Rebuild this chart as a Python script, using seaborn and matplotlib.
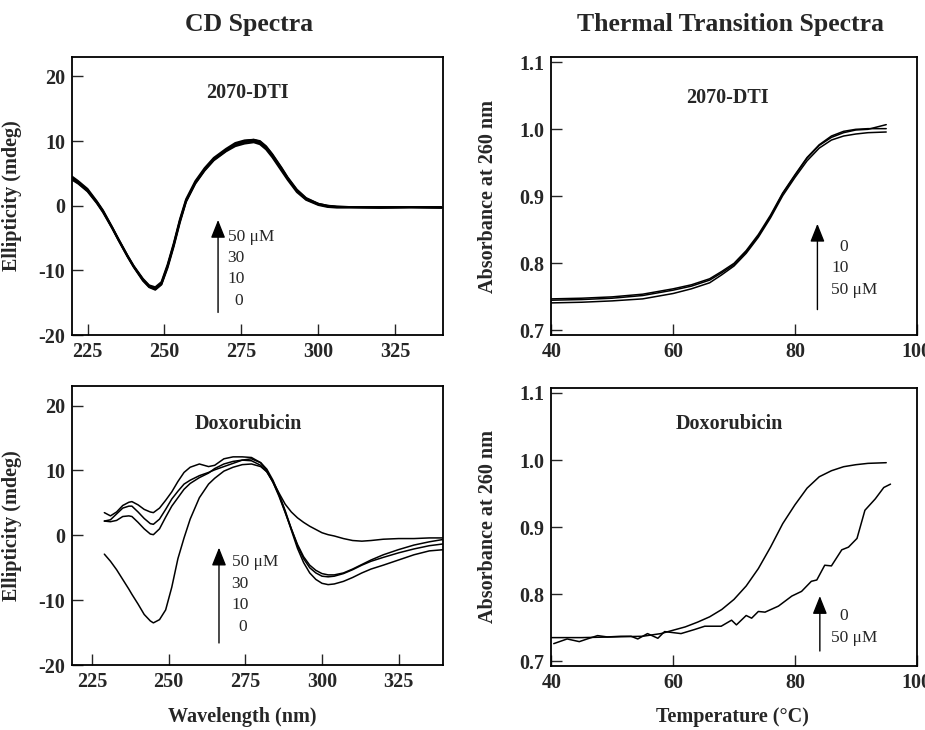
import numpy as np
import pandas as pd
import matplotlib
matplotlib.use("Agg")
import matplotlib.pyplot as plt
from matplotlib.ticker import FormatStrFormatter
import seaborn as sns

# ---- CD spectra, 2070-DTI (wavelength nm, ellipticity mdeg) ----
cd_dti_nm = [220, 222, 225, 228, 230, 233, 235, 238, 240, 243, 245, 247, 249, 251,
             253, 255, 257, 260, 263, 266, 270, 273, 276, 279, 281, 283, 285, 288,
             290, 293, 296, 300, 303, 306, 310, 320, 330, 340]
cd_dti_0 = [4.3, 3.6, 2.4, 0.6, -0.8, -3.4, -5.2, -7.8, -9.4, -11.4, -12.4, -12.8, -12.0, -9.3,
            -6.0, -2.3, 0.8, 3.6, 5.6, 7.2, 8.6, 9.4, 9.8, 10.0, 9.7, 8.9, 7.7, 5.6,
            4.2, 2.3, 1.0, 0.2, -0.1, -0.2, -0.2, -0.3, -0.2, -0.3]
cd_dti_10 = [4.0, 3.4, 2.2, 0.4, -1.0, -3.5, -5.3, -7.9, -9.5, -11.6, -12.6, -13.0, -12.2, -9.6,
             -6.3, -2.6, 0.6, 3.4, 5.4, 7.0, 8.4, 9.2, 9.6, 9.8, 9.5, 8.7, 7.5, 5.4,
             4.0, 2.1, 0.9, 0.1, -0.2, -0.3, -0.3, -0.3, -0.3, -0.3]
cd_dti_30 = [4.5, 3.8, 2.6, 0.7, -0.7, -3.3, -5.1, -7.7, -9.3, -11.3, -12.3, -12.6, -11.8, -9.1,
             -5.8, -2.1, 1.0, 3.8, 5.8, 7.4, 8.8, 9.7, 10.1, 10.2, 9.9, 9.1, 7.9, 5.8,
             4.3, 2.4, 1.1, 0.3, 0.0, -0.1, -0.2, -0.2, -0.2, -0.2]
cd_dti_50 = [4.2, 3.5, 2.3, 0.5, -0.9, -3.4, -5.2, -7.8, -9.4, -11.5, -12.5, -12.9, -12.1, -9.4,
             -6.1, -2.4, 0.7, 3.5, 5.5, 7.1, 8.5, 9.5, 10.0, 10.2, 10.0, 9.2, 8.0, 5.9,
             4.4, 2.5, 1.2, 0.3, 0.0, -0.2, -0.2, -0.3, -0.2, -0.3]

# ---- CD spectra, Doxorubicin ----
cd_dox_nm = [229, 231, 233, 235, 237, 238, 240, 242, 244, 245, 247, 249, 251, 253, 255,
             257, 260, 263, 265, 268, 271, 274, 277, 280, 282, 284, 286, 288, 290, 292,
             294, 296, 298, 300, 302, 304, 307, 310, 313, 316, 320, 325, 330, 335, 340]
cd_dox_0 = [-2.9, -4.0, -5.3, -6.8, -8.3, -9.1, -10.6, -12.2, -13.2, -13.5, -13.0, -11.5, -8.0, -3.6, -0.4,
            2.5, 5.8, 7.9, 8.8, 9.9, 10.5, 10.9, 11.0, 10.6, 9.8, 8.3, 6.5, 4.8, 3.6, 2.7,
            2.0, 1.4, 0.9, 0.4, 0.1, -0.1, -0.5, -0.8, -0.9, -0.8, -0.6, -0.5, -0.5, -0.4, -0.4]
cd_dox_10 = [2.2, 2.1, 2.3, 2.9, 3.0, 2.9, 2.0, 1.0, 0.2, 0.1, 1.0, 2.8, 4.5, 5.8, 7.1,
             8.0, 8.9, 9.6, 10.3, 11.0, 11.4, 11.6, 11.5, 10.8, 9.8, 8.2, 6.2, 3.6, 0.8, -2.0,
             -4.2, -5.8, -6.8, -7.4, -7.6, -7.5, -7.1, -6.5, -5.8, -5.2, -4.6, -3.8, -3.0, -2.4, -2.2]
cd_dox_30 = [2.2, 2.4, 3.3, 4.2, 4.5, 4.5, 3.6, 2.6, 1.8, 1.7, 2.5, 4.0, 5.6, 6.8, 7.9,
             8.5, 9.2, 9.7, 10.1, 10.6, 11.1, 11.6, 11.8, 11.2, 10.2, 8.5, 6.3, 3.8, 1.0, -1.6,
             -3.6, -5.0, -5.8, -6.3, -6.4, -6.3, -5.9, -5.3, -4.6, -4.0, -3.4, -2.7, -2.1, -1.6, -1.3]
cd_dox_50 = [3.5, 3.0, 3.6, 4.6, 5.1, 5.2, 4.7, 4.0, 3.6, 3.5, 4.2, 5.4, 6.7, 8.3, 9.7,
             10.5, 11.0, 10.6, 10.8, 11.8, 12.1, 12.1, 12.0, 11.2, 10.0, 8.2, 6.0, 3.5, 1.0, -1.4,
             -3.3, -4.6, -5.4, -5.9, -6.1, -6.1, -5.8, -5.2, -4.5, -3.8, -3.0, -2.2, -1.5, -1.0, -0.6]

# ---- Thermal transitions, 2070-DTI (temperature C, A260) ----
tm_dti_T = [40, 45, 50, 55, 60, 63, 66, 68, 70, 72, 74, 76, 78, 80, 82, 84, 86, 88, 90, 92, 95]
tm_dti_0 = [0.745, 0.746, 0.748, 0.752, 0.760, 0.766, 0.775, 0.786, 0.798, 0.817, 0.841,
            0.870, 0.904, 0.931, 0.957, 0.976, 0.988, 0.995, 0.999, 1.000, 1.007]
tm_dti_10 = [0.747, 0.748, 0.750, 0.754, 0.762, 0.768, 0.777, 0.788, 0.800, 0.819, 0.843,
             0.872, 0.905, 0.932, 0.958, 0.977, 0.990, 0.997, 1.000, 1.001, 1.001]
tm_dti_50 = [0.741, 0.742, 0.744, 0.747, 0.755, 0.762, 0.771, 0.783, 0.796, 0.815, 0.839,
             0.868, 0.901, 0.928, 0.953, 0.972, 0.984, 0.990, 0.993, 0.995, 0.996]

# ---- Thermal transitions, Doxorubicin ----
tm_dox_T0 = [40, 45, 50, 55, 58, 60, 62, 64, 66, 68, 70, 72, 74, 76, 78, 80, 82, 84,
             86, 88, 90, 92, 95]
tm_dox_0 = [0.735, 0.735, 0.736, 0.737, 0.741, 0.746, 0.751, 0.758, 0.766, 0.777, 0.792,
            0.812, 0.838, 0.870, 0.905, 0.933, 0.958, 0.975, 0.984, 0.990, 0.993, 0.995, 0.996]
tm_dox_T50 = [40.4, 42.6, 44.6, 45.9, 47.6, 49.2, 51.4, 53.1, 54.2, 55.8, 57.5, 58.6,
              61.3, 63.5, 65.2, 67.9, 69.6, 70.4, 72.0, 72.9, 74.0, 75.1, 77.3, 79.5,
              81.1, 82.7, 83.6, 84.9, 86.0, 87.7, 88.8, 90.2, 91.5, 93.2, 94.6, 95.7]
tm_dox_50 = [0.726, 0.733, 0.729, 0.733, 0.738, 0.736, 0.737, 0.737, 0.733, 0.741, 0.734, 0.744,
             0.741, 0.747, 0.752, 0.752, 0.761, 0.754, 0.768, 0.764, 0.774, 0.773, 0.782, 0.797,
             0.804, 0.819, 0.821, 0.843, 0.842, 0.866, 0.870, 0.883, 0.925, 0.942, 0.959, 0.964]

sns.set_style("ticks")
plt.rcParams["font.family"] = ["Liberation Serif", "DejaVu Serif"]
plt.rcParams["axes.unicode_minus"] = False

fig = plt.figure(figsize=(9.25, 7.3), dpi=100)
ax_tl = fig.add_axes([0.078, 0.541, 0.401, 0.381])
ax_bl = fig.add_axes([0.078, 0.089, 0.401, 0.382])
ax_tr = fig.add_axes([0.596, 0.541, 0.395, 0.381])
ax_br = fig.add_axes([0.596, 0.088, 0.395, 0.381])

lw = 1.1
for ys in [cd_dti_0, cd_dti_10, cd_dti_30, cd_dti_50]:
    sns.lineplot(x=cd_dti_nm, y=ys, ax=ax_tl, color="black", lw=1.4)
for ys in [cd_dox_0, cd_dox_10, cd_dox_30, cd_dox_50]:
    sns.lineplot(x=cd_dox_nm, y=ys, ax=ax_bl, color="black", lw=lw)
for ys in [tm_dti_0, tm_dti_10, tm_dti_50]:
    sns.lineplot(x=tm_dti_T, y=ys, ax=ax_tr, color="black", lw=lw)
sns.lineplot(x=tm_dox_T0, y=tm_dox_0, ax=ax_br, color="black", lw=lw)
sns.lineplot(x=tm_dox_T50, y=tm_dox_50, ax=ax_br, color="black", lw=lw)

lab_font = dict(fontsize=14.5, fontweight="bold")

for ax in [ax_tl, ax_bl]:
    ax.set_ylim(-20, 23)
    ax.set_yticks([-20, -10, 0, 10, 20])
    ax.set_xticks([225, 250, 275, 300, 325])
    ax.set_ylabel("Ellipticity (mdeg)", **lab_font)
    ax.yaxis.set_label_coords(-0.135, 0.5)
ax_tl.set_xlim(220, 340.5)
ax_bl.set_xlim(218.5, 339.5)

for ax in [ax_tr, ax_br]:
    ax.set_xlim(40, 100)
    ax.set_ylim(0.693, 1.108)
    ax.set_xticks([40, 60, 80, 100])
    ax.set_yticks([0.7, 0.8, 0.9, 1.0, 1.1])
    ax.yaxis.set_major_formatter(FormatStrFormatter("%.1f"))
    ax.set_ylabel("Absorbance at 260 nm", **lab_font)
    ax.yaxis.set_label_coords(-0.145, 0.5)

for ax in [ax_tl, ax_bl, ax_tr, ax_br]:
    ax.set_xlabel("")
    ax.tick_params(direction="in", length=8, width=1, pad=5)
    for lab in ax.get_xticklabels() + ax.get_yticklabels():
        lab.set_fontsize(14.5)
        lab.set_fontweight("bold")
    for sp in ax.spines.values():
        sp.set_visible(True)
        sp.set_linewidth(1.3)
        sp.set_color("black")

# panel names
ax_tl.text(277, 17.4, "2070-DTI", ha="center", va="center", **lab_font)
ax_bl.text(276, 17.2, "Doxorubicin", ha="center", va="center", **lab_font)
ax_tr.text(69, 1.046, "2070-DTI", ha="center", va="center", **lab_font)
ax_br.text(69.3, 1.054, "Doxorubicin", ha="center", va="center", **lab_font)

# concentration arrows
arr = dict(arrowstyle="-|>,head_length=0.55,head_width=0.22", color="black",
           lw=1.0, mutation_scale=20, shrinkA=0, shrinkB=0)
ax_tl.annotate("", xy=(267.4, -2.2), xytext=(267.4, -16.5), arrowprops=arr)
ax_bl.annotate("", xy=(266.4, -1.9), xytext=(266.4, -16.6), arrowprops=arr)
ax_tr.annotate("", xy=(83.7, 0.859), xytext=(83.7, 0.731), arrowprops=arr)
ax_br.annotate("", xy=(84.1, 0.797), xytext=(84.1, 0.715), arrowprops=arr)

note = dict(fontsize=12.5, va="center")
for ax, x0, ys in [(ax_tl, 270.5, [-4.8, -8.1, -11.4, -14.7]),
                   (ax_bl, 270.5, [-4.1, -7.5, -10.8, -14.2])]:
    ax.text(x0, ys[0], "50 μM", ha="left", **note)
    ax.text(x0, ys[1], "30", ha="left", **note)
    ax.text(x0, ys[2], "10", ha="left", **note)
    ax.text(x0 + 2.2, ys[3], "0", ha="left", **note)

ax_tr.text(87.3, 0.825, "0", ha="left", **note)
ax_tr.text(86.0, 0.793, "10", ha="left", **note)
ax_tr.text(86.0, 0.760, "50 μM", ha="left", **note)
ax_br.text(87.3, 0.767, "0", ha="left", **note)
ax_br.text(86.0, 0.735, "50 μM", ha="left", **note)

fig.text(0.269, 1 - 25 / 730, "CD Spectra", ha="center", va="center",
         fontsize=18.5, fontweight="bold")
fig.text(0.790, 1 - 25 / 730, "Thermal Transition Spectra", ha="center", va="center",
         fontsize=18.5, fontweight="bold")
fig.text(242 / 925, 1 - 717 / 730, "Wavelength (nm)", ha="center", va="center", **lab_font)
fig.text(732 / 925, 1 - 717 / 730, "Temperature (°C)", ha="center", va="center", **lab_font)

fig.savefig("out.png", dpi=100)
